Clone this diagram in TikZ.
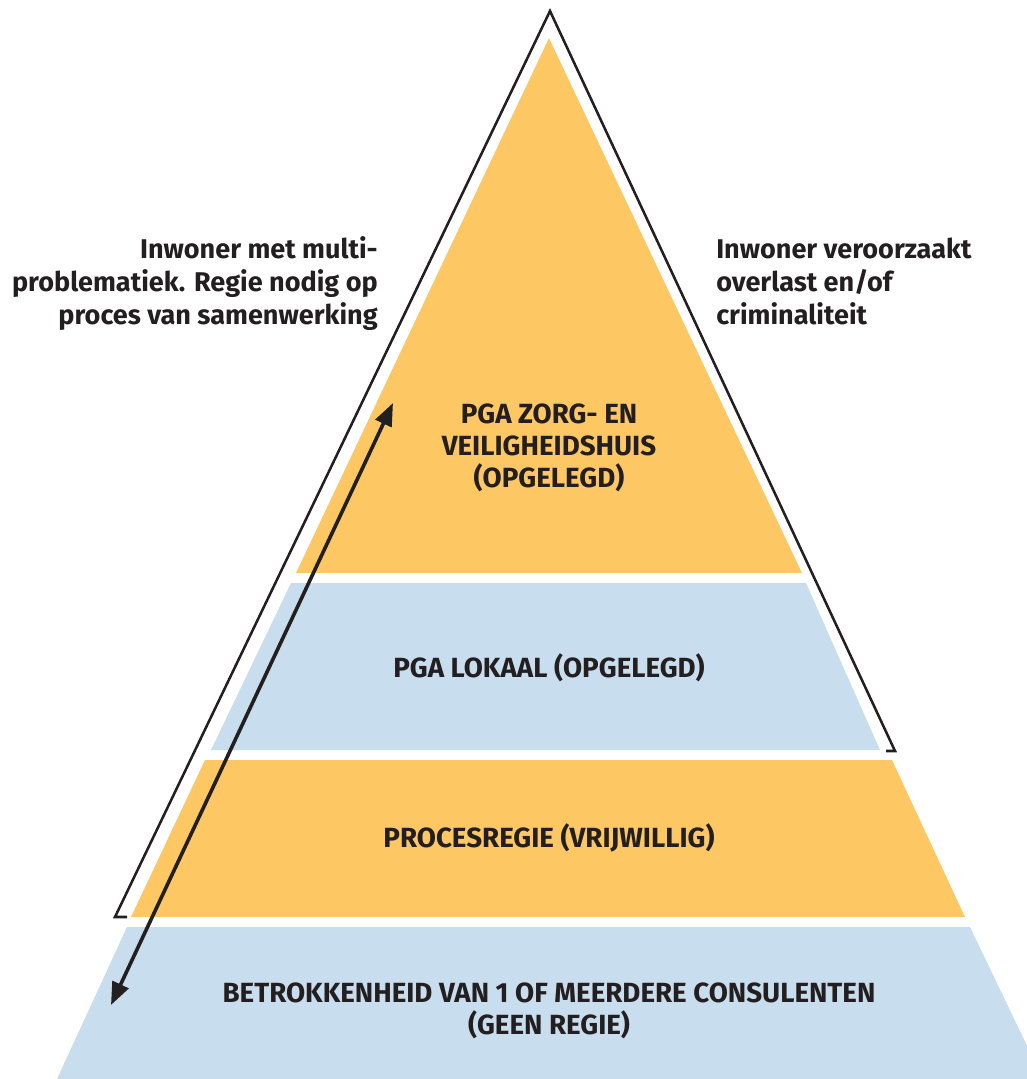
\documentclass[tikz,border=0pt]{standalone}
\usepackage{fontspec}
\setmainfont{Fira Sans}
\usepackage{xcolor}
\usetikzlibrary{arrows.meta}
\usetikzlibrary{positioning}
\definecolor{pgaoranje}{RGB}{253,200,100}
\definecolor{pgablauw}{RGB}{200,221,237}
\definecolor{pgatekst}{RGB}{35,31,32}

\begin{document}
\begin{tikzpicture}[x=0.75pt,y=0.75pt,yscale=-1,xscale=1,
  laag/.style={text=pgatekst,font=\fontsize{20.8}{24}\selectfont\bfseries,align=center,inner sep=0pt},
  kant/.style={text=pgatekst,font=\fontsize{20.3}{24.75}\selectfont\bfseries,inner sep=0pt},
  rand/.style={draw=pgatekst,line width=1.9pt,line join=miter},
  pijl/.style={draw=pgatekst,line width=2.7pt,{Triangle[length=17pt,width=13pt]}-{Triangle[length=17pt,width=13pt]}}]
\useasboundingbox (0,0) rectangle (1027,1079);
\clip (0,0) rectangle (1027,1079);

%Shape: Top band
\fill [pgaoranje] (549,38) -- (802,573) -- (296,573) -- cycle ;
%Shape: Second band
\fill [pgablauw] (291,583) -- (806,583) -- (880,750) -- (211,750) -- cycle ;
%Shape: Third band
\fill [pgaoranje] (205,760) -- (892,760) -- (965,917) -- (131,917) -- cycle ;
%Shape: Bottom band
\fill [pgablauw] (127,927) -- (970,927) -- (1043,1079) -- (57,1079) -- cycle ;

%Straight Lines: outline
\draw [rand] (127,917) -- (115,917) -- (550,11) -- (895,751) -- (886,751) ;

%Straight Lines: double arrow
\coordinate (pijlBoven) at (393,403) ;
\coordinate (pijlOnder) at (111,1005) ;
\draw [pijl] (pijlOnder) -- (pijlBoven) ;

% Text Node
\draw (378,324) node (tekstLinks) [kant,anchor=base east,align=right] {Inwoner met multi-\\problematiek. Regie nodig op\\proces van samenwerking};
% Text Node
\draw (716,324) node (tekstRechts) [kant,anchor=base west,align=left] {Inwoner veroorzaakt\\overlast en/of\\criminaliteit};
% Text Node
\draw (549,487) node (laagZorg) [laag,anchor=base] {PGA ZORG- EN\\VEILIGHEIDSHUIS\\(OPGELEGD)};
% Text Node
\draw (549,677) node (laagLokaal) [laag,anchor=base] {PGA LOKAAL (OPGELEGD)};
% Text Node
\draw (549,847) node (laagProces) [laag,anchor=base] {PROCESREGIE (VRIJWILLIG)};
% Text Node
\draw (549,1034) node (laagConsulenten) [laag,anchor=base] {BETROKKENHEID VAN 1 OF MEERDERE CONSULENTEN\\(GEEN REGIE)};

\end{tikzpicture}
\end{document}
